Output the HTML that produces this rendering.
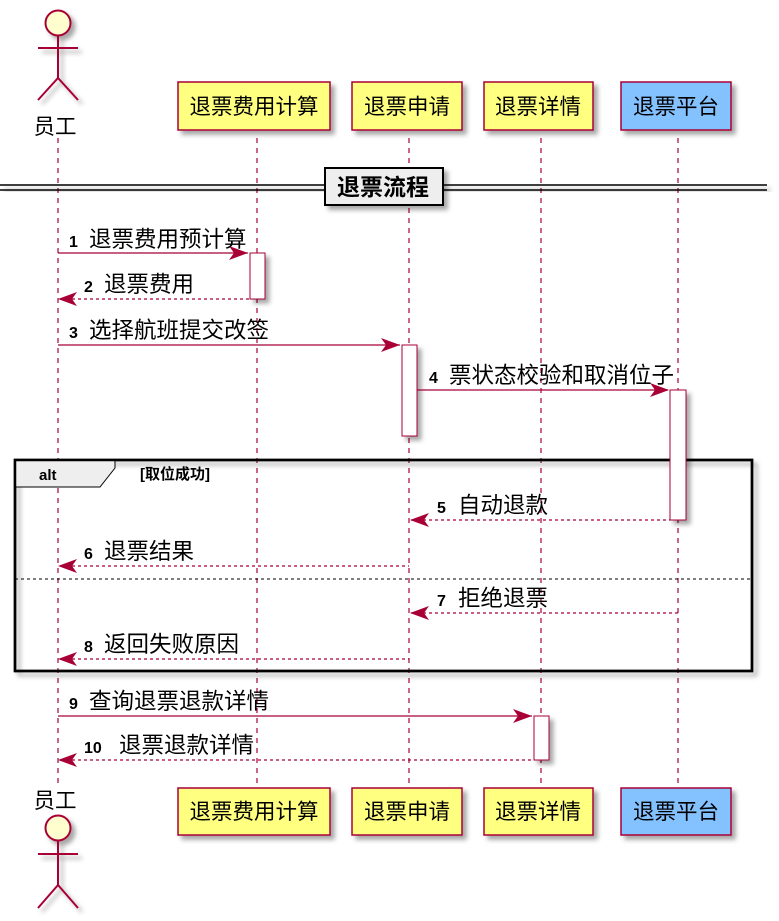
<!DOCTYPE html>
<html><head><meta charset="utf-8"><style>body{margin:0;background:#fff}svg{display:block}</style></head><body>
<svg width="779" height="921" xmlns="http://www.w3.org/2000/svg" font-family="Liberation Sans, Noto Sans CJK SC, sans-serif">
<defs><filter id="sh" x="-20%" y="-20%" width="160%" height="160%"><feDropShadow dx="4" dy="4" stdDeviation="2.5" flood-color="#000" flood-opacity="0.35"/></filter></defs>
<g stroke="#A80036" stroke-width="1.2" stroke-dasharray="5,5">
<line x1="58" y1="138" x2="58" y2="786"/><line x1="257" y1="138" x2="257" y2="786"/><line x1="409" y1="138" x2="409" y2="786"/><line x1="541" y1="138" x2="541" y2="786"/><line x1="678" y1="138" x2="678" y2="786"/>
</g>
<g stroke="#A80036" stroke-width="2" fill="none" filter="url(#sh)">
<circle cx="58" cy="23" r="12.5" fill="#FEFECE"/><line x1="58" y1="36" x2="58" y2="78"/><line x1="38" y1="48" x2="78" y2="48"/><polyline points="38,100 58,78 78,100"/>
<circle cx="58" cy="828" r="12.5" fill="#FEFECE"/><line x1="58" y1="841" x2="58" y2="885"/><line x1="38" y1="854" x2="78" y2="854"/><polyline points="38,908 58,885 78,908"/>
</g>
<g font-size="21.5" fill="#000" text-anchor="middle">
<text x="55" y="134">员工</text><text x="55" y="808">员工</text>
</g>
<g stroke="#A80036" stroke-width="1.5" filter="url(#sh)">
<rect x="178" y="82" width="152" height="48" fill="#FFFF80"/><rect x="352" y="82" width="110" height="48" fill="#FFFF80"/><rect x="484" y="82" width="109" height="48" fill="#FFFF80"/><rect x="621" y="82" width="110" height="48" fill="#84C1FF"/>
<rect x="178" y="788" width="152" height="47" fill="#FFFF80"/><rect x="352" y="788" width="110" height="47" fill="#FFFF80"/><rect x="484" y="788" width="109" height="47" fill="#FFFF80"/><rect x="621" y="788" width="110" height="47" fill="#84C1FF"/>
</g>
<g font-size="21.5" text-anchor="middle" fill="#000">
<text x="254" y="114">退票费用计算</text><text x="407" y="114">退票申请</text><text x="538" y="114">退票详情</text><text x="676" y="114">退票平台</text>
<text x="254" y="819">退票费用计算</text><text x="407" y="819">退票申请</text><text x="538" y="819">退票详情</text><text x="676" y="819">退票平台</text>
</g>
<g filter="url(#sh)"><line x1="0" y1="185" x2="767" y2="185" stroke="#000" stroke-width="1.5"/><line x1="0" y1="190" x2="767" y2="190" stroke="#000" stroke-width="1.5"/></g>
<rect x="325" y="168" width="118" height="37" fill="#EEEEEE" stroke="#000" stroke-width="2" filter="url(#sh)"/>
<text x="383" y="195" font-size="23" font-weight="bold" text-anchor="middle">退票流程</text>
<rect x="15" y="460" width="737" height="211" fill="none" stroke="#000" stroke-width="2.5" filter="url(#sh)"/>
<polygon points="15,460 115,460 115,468 100,487 15,487" fill="#EEEEEE" stroke="#000" stroke-width="1"/>
<rect x="15" y="460" width="737" height="211" fill="none" stroke="#000" stroke-width="2.5"/>
<text x="39" y="480" font-size="15" font-weight="bold">alt</text>
<text x="140" y="479" font-size="15" font-weight="bold">[取位成功]</text>
<line x1="15" y1="579" x2="752" y2="579" stroke="#000" stroke-width="1" stroke-dasharray="3,3"/>
<g fill="#fff" stroke="#A80036" stroke-width="1" filter="url(#sh)">
<rect x="250" y="253" width="15" height="46"/><rect x="402" y="345" width="15" height="91"/><rect x="670" y="390" width="16" height="130"/><rect x="534" y="716" width="15" height="44"/>
</g>
<g stroke="#A80036" stroke-width="1.2" fill="none">
<line x1="58" y1="253" x2="248" y2="253"/>
<line x1="60" y1="299" x2="250" y2="299" stroke-dasharray="3,3"/>
<line x1="58" y1="345" x2="400" y2="345"/>
<line x1="417" y1="390" x2="668" y2="390"/>
<line x1="411" y1="520" x2="670" y2="520" stroke-dasharray="3,3"/>
<line x1="60" y1="566" x2="409" y2="566" stroke-dasharray="3,3"/>
<line x1="411" y1="613" x2="678" y2="613" stroke-dasharray="3,3"/>
<line x1="60" y1="659" x2="409" y2="659" stroke-dasharray="3,3"/>
<line x1="58" y1="716" x2="532" y2="716"/>
<line x1="60" y1="760" x2="534" y2="760" stroke-dasharray="3,3"/>
</g>
<g fill="#A80036">
<polygon points="248,253 229,246 234,253 229,260"/>
<polygon points="58,299 77,292 72,299 77,306"/>
<polygon points="400,345 381,338 386,345 381,352"/>
<polygon points="669,390 650,383 655,390 650,397"/>
<polygon points="410,520 429,513 424,520 429,527"/>
<polygon points="58,566 77,559 72,566 77,573"/>
<polygon points="410,613 429,606 424,613 429,620"/>
<polygon points="58,659 77,652 72,659 77,666"/>
<polygon points="532,716 513,709 518,716 513,723"/>
<polygon points="58,760 77,753 72,760 77,767"/>
</g>
<g fill="#000">
<g font-size="16" font-weight="bold">
<text x="69" y="247">1</text><text x="84" y="292">2</text><text x="69" y="338">3</text><text x="429" y="383">4</text><text x="437" y="513">5</text><text x="84" y="559">6</text><text x="437" y="606">7</text><text x="84" y="652">8</text><text x="69" y="709">9</text><text x="84" y="753">10</text>
</g>
<g font-size="22.5">
<text x="89" y="247">退票费用预计算</text><text x="104" y="292">退票费用</text><text x="89" y="338">选择航班提交改签</text><text x="449" y="383">票状态校验和取消位子</text><text x="458" y="513">自动退款</text><text x="104" y="559">退票结果</text><text x="458" y="606">拒绝退票</text><text x="104" y="652">返回失败原因</text><text x="89" y="709">查询退票退款详情</text><text x="119" y="753">退票退款详情</text>
</g>
</g>
</svg>
</body></html>
